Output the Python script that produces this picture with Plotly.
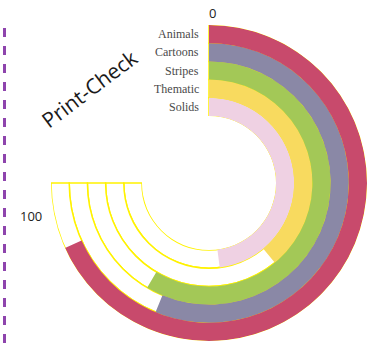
import plotly.graph_objects as go

# Categories from innermost ring to outermost ring
categories = ["Solids", "Thematic", "Stripes", "Cartoons", "Animals"]
values = [64, 52, 78, 75, 91]          # percent of the 0-100 scale
colors = ["#EFD1E3", "#F8DA5F", "#A3C857", "#8A88A6", "#C84A6C"]
scale_max = 100
sweep_deg = 270                          # 0..100 spans three quarters of the circle

ring_base = [i for i in range(len(categories))]
ring_mid = [b + 0.5 for b in ring_base]
span = [v / scale_max * sweep_deg for v in values]

W, H = 376, 344
cx, cy = 209, 183          # polar centre in pixels
outer_r, hole_r = 158, 67  # outer radius and hole radius in pixels
hole = hole_r / outer_r
unit = (outer_r - hole_r) / len(categories)

fig = go.Figure()

# White track for each ring, outlined in yellow
fig.add_trace(go.Barpolar(
    r=[1] * len(categories),
    base=ring_base,
    theta=[sweep_deg / 2] * len(categories),
    width=[sweep_deg] * len(categories),
    marker=dict(color="white", line=dict(color="#FFF200", width=1.5)),
    hoverinfo="skip",
    showlegend=False,
))

# Value bars
fig.add_trace(go.Barpolar(
    r=[1] * len(categories),
    base=ring_base,
    theta=[s / 2 for s in span],
    width=span,
    marker=dict(color=colors, line=dict(width=0)),
    text=categories,
    customdata=values,
    hovertemplate="%{text}: %{customdata}<extra></extra>",
    showlegend=False,
))

fig.update_layout(
    width=W, height=H,
    margin=dict(l=0, r=0, t=0, b=0),
    paper_bgcolor="white",
    plot_bgcolor="white",
    showlegend=False,
    polar=dict(
        domain=dict(x=[(cx - outer_r) / W, (cx + outer_r) / W],
                    y=[1 - (cy + outer_r) / H, 1 - (cy - outer_r) / H]),
        bgcolor="white",
        hole=hole,
        bargap=0,
        angularaxis=dict(
            direction="clockwise", rotation=90,
            showgrid=False, showline=False, showticklabels=False, ticks="",
        ),
        radialaxis=dict(
            range=[0, len(categories)],
            showgrid=False, showline=False, showticklabels=False, ticks="",
        ),
    ),
)

# Ring names, right-aligned just left of the 0 position
for name, m in zip(categories, ring_mid):
    y_px = cy - (hole_r + m * unit)
    fig.add_annotation(text=name, x=(cx - 8) / W, y=1 - y_px / H,
                       xref="paper", yref="paper", showarrow=False,
                       xanchor="right", yanchor="middle",
                       font=dict(family="Liberation Serif", size=12, color="#4a4a4a"))

# Title and scale labels
fig.add_annotation(text="Print-Check", x=89 / W, y=1 - 89 / H,
                   xref="paper", yref="paper", showarrow=False, textangle=-37,
                   xanchor="center", yanchor="middle",
                   font=dict(family="Open Sans", size=21, color="#1a1a1a"))
fig.add_annotation(text="0", x=212 / W, y=1 - 13 / H,
                   xref="paper", yref="paper", showarrow=False,
                   xanchor="center", yanchor="middle",
                   font=dict(family="Open Sans", size=13, color="#222"))
fig.add_annotation(text="100", x=31 / W, y=1 - 216 / H,
                   xref="paper", yref="paper", showarrow=False,
                   xanchor="center", yanchor="middle",
                   font=dict(family="Open Sans", size=13, color="#222"))

# Dashed guide on the left edge
fig.add_shape(type="line", xref="paper", yref="paper",
              x0=4.5 / W, x1=4.5 / W, y0=1 - 28 / H, y1=0,
              line=dict(color="#8E44AD", width=3, dash="dash"))

fig.write_html("out.html")
